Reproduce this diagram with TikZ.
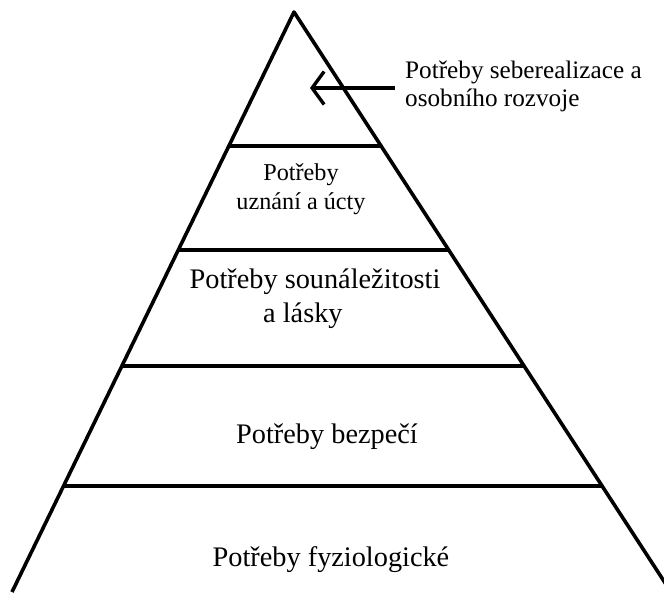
\documentclass[tikz,border=0pt]{standalone}
\usepackage{fontspec}
\setmainfont{Liberation Serif}
\newfontfamily\timesfont{Liberation Serif}
\usetikzlibrary{calc,arrows.meta}
\begin{document}
\begin{tikzpicture}[x=1pt,y=-1pt,
  edge/.style={line width=3.6pt, line join=round},
  lvl/.style={line width=3.6pt},
  pointer/.style={line width=3.4pt, -{Straight Barb[length=12pt,width=33pt]}},
  lbl/.style={inner sep=0pt, anchor=base, font=\timesfont\fontsize{28.3}{33}\selectfont},
  lblsmall/.style={inner sep=0pt, anchor=base, font=\timesfont\fontsize{24.2}{29}\selectfont},
  note/.style={inner sep=0pt, anchor=base west, font=\timesfont\fontsize{25.2}{29}\selectfont}]
\useasboundingbox[fill=white] (0,0) rectangle (664,592);
\coordinate (A) at (294,12);
\coordinate (L) at (12,592);
\coordinate (R) at (671,592);
\draw[edge] (L) -- (A) -- (R);
% level lines
\coordinate (l1) at ($(A)!{134/580}!(L)$);
\coordinate (r1) at ($(A)!{134/580}!(R)$);
\coordinate (l2) at ($(A)!{238/580}!(L)$);
\coordinate (r2) at ($(A)!{238/580}!(R)$);
\coordinate (l3) at ($(A)!{354/580}!(L)$);
\coordinate (r3) at ($(A)!{354/580}!(R)$);
\coordinate (l4) at ($(A)!{474/580}!(L)$);
\coordinate (r4) at ($(A)!{474/580}!(R)$);
\draw[lvl] (l1) -- (r1);
\draw[lvl] (l2) -- (r2);
\draw[lvl] (l3) -- (r3);
\draw[lvl] (l4) -- (r4);
% labels
\node[note] (top1) at (405,78) {Potřeby seberealizace a};
\node[note] (top2) at (405,106) {osobního rozvoje};
\coordinate (astart) at (395,88);
\coordinate (tip) at (310,88);
\draw[pointer] (astart) -- (tip);
\node[lblsmall] (u1) at (301,180) {Potřeby};
\node[lblsmall] (u2) at (301,209) {uznání a úcty};
\node[lbl] (s1) at (315,288) {Potřeby sounáležitosti};
\node[lbl, anchor=base west] (s2) at (263,322) {a lásky};
\node[lbl] (b1) at (327,443) {Potřeby bezpečí};
\node[lbl] (f1) at (331,566) {Potřeby fyziologické};
\end{tikzpicture}
\end{document}
